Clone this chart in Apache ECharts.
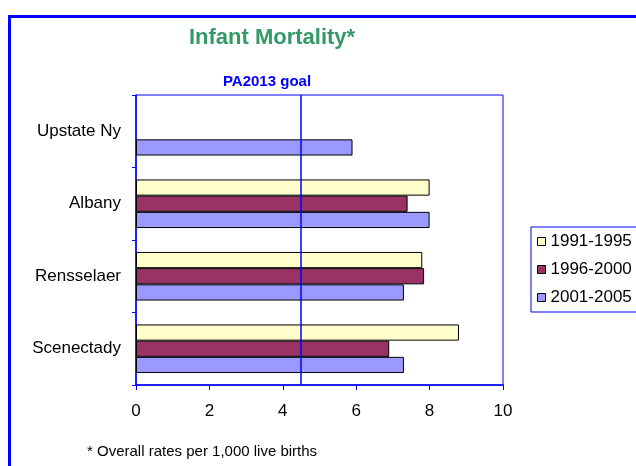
<!DOCTYPE html>
<html><head><meta charset="utf-8">
<script src="https://cdn.jsdelivr.net/npm/echarts@6/dist/echarts.min.js"></script>
<style>html,body{margin:0;padding:0;background:#fff}#c{width:636px;height:466px}</style>
</head><body><div id="c"></div>
<script>
const categories = ['Scenectady', 'Rensselaer', 'Albany', 'Upstate Ny'];
const seriesNames = ['1991-1995', '1996-2000', '2001-2005'];
const s1991 = [8.8, 7.8, 8.0, null];
const s1996 = [6.9, 7.85, 7.4, null];
const s2001 = [7.3, 7.3, 8.0, 5.9];
const goalValue = 4.5;
const xTicks = [0, 2, 4, 6, 8, 10];

const colors = ['#FFFFCC', '#993366', '#9999FF'];
const font = "'Liberation Sans', Arial, sans-serif";
const blue = '#0000FF';
const data = [s1991, s1996, s2001];

const chart = echarts.init(document.getElementById('c'), null, {renderer: 'canvas'});
const series = seriesNames.map((n, i) => ({
  name: n, type: 'bar', data: data[i],
  barGap: '0%', barCategoryGap: '33%',
  itemStyle: {color: colors[i], borderColor: '#000', borderWidth: 1},
  emphasis: {disabled: true}
}));
series[0].markLine = {
  silent: true, symbol: ['none', 'none'],
  label: {show: false},
  lineStyle: {color: blue, width: 1.5, type: 'solid'},
  data: [{xAxis: goalValue}]
};
chart.setOption({
  animation: false,
  backgroundColor: '#fff',
  title: [
    {text: 'Infant Mortality*', left: 267, top: 22, textAlign: 'center',
     textStyle: {color: '#339966', fontSize: 22, fontWeight: 'bold', fontFamily: font}},
    {text: 'PA2013 goal', left: 262, top: 69, textAlign: 'center',
     textStyle: {color: blue, fontSize: 15, fontWeight: 'bold', fontFamily: font}},
    {text: '* Overall rates per 1,000 live births', left: 82, top: 439,
     textStyle: {color: '#000', fontSize: 15, fontWeight: 'normal', fontFamily: font}}
  ],
  legend: {
    orient: 'vertical', left: 531, top: 227,
    data: seriesNames,
    icon: 'rect', itemWidth: 8, itemHeight: 8, itemGap: 11,
    padding: [6, 20, 6, 6],
    borderColor: blue, borderWidth: 1,
    textStyle: {color: '#000', fontSize: 17, fontFamily: font, lineHeight: 17},
    itemStyle: {borderColor: '#000', borderWidth: 1}
  },
  graphic: [{
    type: 'rect', left: 7, top: 14,
    shape: {width: 660, height: 480},
    style: {fill: 'none', stroke: blue, lineWidth: 3},
    z: 100
  }],
  grid: {left: 136, top: 95, right: 133, bottom: 81, show: true, borderColor: blue, borderWidth: 1, backgroundColor: 'transparent'},
  xAxis: {
    type: 'value', min: xTicks[0], max: xTicks[xTicks.length - 1], interval: 2,
    axisLine: {show: true, lineStyle: {color: blue, width: 1.5}},
    axisTick: {show: true, length: 5, lineStyle: {color: blue}},
    splitLine: {show: false},
    axisLabel: {color: '#000', fontSize: 17, fontFamily: font, margin: 18}
  },
  yAxis: {
    type: 'category', data: categories,
    axisLine: {show: true, lineStyle: {color: blue, width: 1.5}},
    axisTick: {show: true, length: 4, lineStyle: {color: blue}},
    axisLabel: {color: '#000', fontSize: 17, fontFamily: font, margin: 15}
  },
  series: series
});
</script></body></html>
